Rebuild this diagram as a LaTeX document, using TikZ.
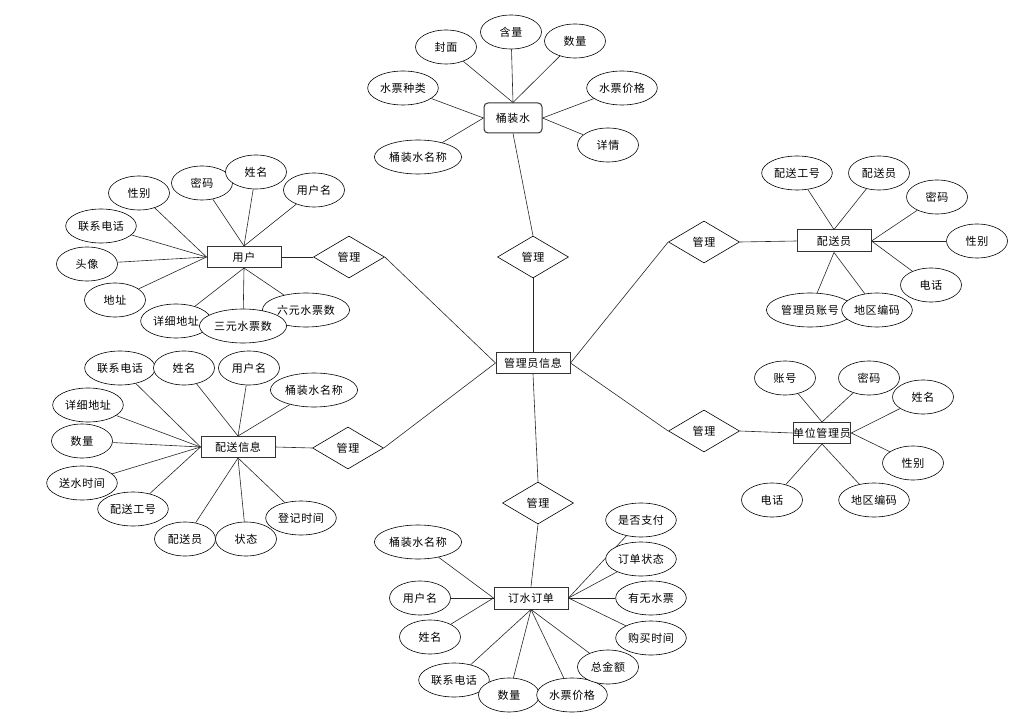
\documentclass[tikz,border=0pt]{standalone}
\usepackage{fontspec}
\newfontfamily\cjk[LetterSpace=6]{Noto Sans CJK SC}
\usetikzlibrary{shapes.geometric}

\begin{document}
\begin{tikzpicture}[x=1pt,y=-1pt,
    txt/.style={font=\cjk\fontsize{11}{13}\selectfont},
    attr/.style={txt,draw,ellipse,fill=white,line width=.6pt,minimum width=61pt,minimum height=34pt,inner xsep=2pt,inner ysep=0pt},
    ent/.style={txt,draw=black!80,line width=1pt,fill=white,minimum width=74pt,minimum height=21pt,inner sep=0pt},
    rel/.style={txt,draw,diamond,fill=white,line width=.6pt,minimum width=71pt,minimum height=42pt,inner sep=0pt},
    link/.style={draw=black!85,line width=.6pt}]

  \useasboundingbox (0,0) rectangle (1025,719);

  %% Entities and the central node
  \node[ent] (glyxx) at (533,363) {管理员信息};
  \node[ent,rounded corners=4pt,minimum width=58pt,minimum height=30pt] (tzs) at (513,118) {桶装水};
  \node[ent] (yh) at (244,257) {用户};
  \node[ent] (psxx) at (238,447) {配送信息};
  \node[ent,minimum height=22pt] (psy) at (834,241) {配送员};
  \node[ent,minimum width=57pt] (dwgly) at (822,433) {单位管理员};
  \node[ent,minimum height=22pt] (dsdd) at (531,598) {订水订单};

  %% Relations
  \node[rel] (gl-tzs) at (533,257) {管理};
  \node[rel] (gl-yh) at (349,257) {管理};
  \node[rel] (gl-psxx) at (348,448) {管理};
  \node[rel] (gl-psy) at (704,242) {管理};
  \node[rel] (gl-dw) at (704,431) {管理};
  \node[rel] (gl-dd) at (538,503) {管理};

  \draw[link] (tzs.south) -- (gl-tzs.north);
  \draw[link] (gl-tzs.south) -- (glyxx.north);
  \draw[link] (yh.east) -- (gl-yh.west);
  \draw[link] (gl-yh.east) -- (glyxx.west);
  \draw[link] (psxx.east) -- (gl-psxx.west);
  \draw[link] (gl-psxx.east) -- (glyxx.west);
  \draw[link] (gl-psy.east) -- (psy.west);
  \draw[link] (gl-psy.west) -- (glyxx.east);
  \draw[link] (gl-dw.east) -- (dwgly.west);
  \draw[link] (gl-dw.west) -- (glyxx.east);
  \draw[link] (glyxx.south) -- (gl-dd.north);
  \draw[link] (gl-dd.south) -- (dsdd.north);

  %% Attributes of each entity (name/x/y/text/side of the box)
  \foreach \n/\x/\y/\t/\s in {1/446/47/封面/north,2/511/32/含量/north,3/575/41/数量/north,
      4/403/88/水票种类/west,5/418/157/桶装水名称/west,6/622/88/水票价格/east,7/608/145/详情/east}{
    \node[attr] (tzs-\n) at (\x,\y) {\t};
    \draw[link] (tzs-\n) -- (tzs.\s);
  }

  \foreach \n/\x/\y/\t/\s in {1/139/193/性别/west,2/101/226/联系电话/west,3/87/264/头像/west,
      4/115/300/地址/west,5/202/183/密码/north,6/256/172/姓名/north,7/314/190/用户名/north,
      8/176/321/详细地址/south,9/306/310/六元水票数/south,10/243/326/三元水票数/south}{
    \node[attr] (yh-\n) at (\x,\y) {\t};
    \draw[link] (yh-\n) -- (yh.\s);
  }

  \foreach \n/\x/\y/\t/\s in {1/120/368/联系电话/west,2/88/405/详细地址/west,3/82/441/数量/west,
      4/82/483/送水时间/west,5/133/509/配送工号/west,6/184/368/姓名/north,7/249/368/用户名/north,
      8/314/390/桶装水名称/north,9/185/539/配送员/south,10/246/539/状态/south,11/301/518/登记时间/south}{
    \node[attr] (psxx-\n) at (\x,\y) {\t};
    \draw[link] (psxx-\n) -- (psxx.\s);
  }

  \foreach \n/\x/\y/\t/\s in {1/797/173/配送工号/north,2/879/173/配送员/north,3/937/197/密码/east,
      4/977/241/性别/east,5/931/285/电话/east,6/810/310/管理员账号/south,7/877/310/地区编码/south}{
    \node[attr] (psy-\n) at (\x,\y) {\t};
    \draw[link] (psy-\n) -- (psy.\s);
  }

  \foreach \n/\x/\y/\t/\s in {1/785/378/账号/north,2/869/378/密码/north,3/923/397/姓名/east,
      4/913/463/性别/east,5/772/500/电话/south,6/874/500/地区编码/south}{
    \node[attr] (dw-\n) at (\x,\y) {\t};
    \draw[link] (dw-\n) -- (dwgly.\s);
  }

  \foreach \n/\x/\y/\t/\s in {1/418/542/桶装水名称/west,2/420/598/用户名/west,3/430/637/姓名/west,
      4/641/520/是否支付/east,5/641/559/订单状态/east,6/651/598/有无水票/east,7/651/638/购买时间/east,
      8/454/680/联系电话/south,9/509/695/数量/south,10/572/695/水票价格/south,11/608/667/总金额/south}{
    \node[attr] (dd-\n) at (\x,\y) {\t};
    \draw[link] (dd-\n) -- (dsdd.\s);
  }

\end{tikzpicture}
\end{document}
